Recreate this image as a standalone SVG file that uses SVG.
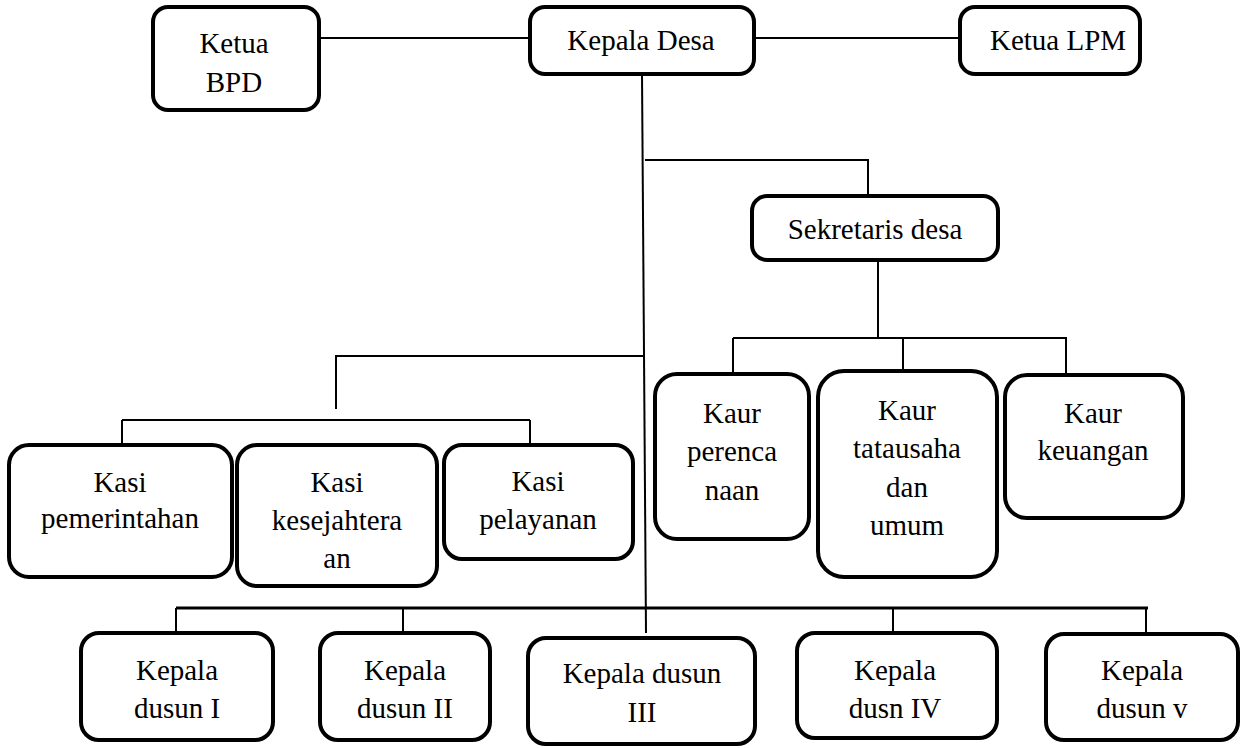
<svg xmlns="http://www.w3.org/2000/svg" width="1241" height="748" viewBox="0 0 1241 748">
<style>
.box{fill:#fff;stroke:#000;stroke-width:4;}
.t{font-family:'Liberation Serif','DejaVu Serif','Times New Roman',Times,serif;font-size:29px;fill:#000;text-anchor:middle;}
.c{fill:none;stroke:#000;stroke-width:2;}
.c3{fill:none;stroke:#000;stroke-width:3;}
</style>
<rect width="1241" height="748" fill="#fff"/>
<g id="connectors">
<line class="c" x1="319" y1="38" x2="530" y2="38"/>
<line class="c" x1="754" y1="38" x2="960" y2="38"/>
<line class="c" x1="642" y1="74" x2="646" y2="633"/>
<polyline class="c" points="645,160 868,160 868,196"/>
<line class="c" x1="878" y1="260" x2="878" y2="338"/>
<line class="c" x1="733" y1="338" x2="1067" y2="338"/>
<line class="c" x1="733" y1="338" x2="733" y2="374"/>
<line class="c" x1="903" y1="338" x2="903" y2="371"/>
<line class="c" x1="1066" y1="338" x2="1066" y2="375"/>
<polyline class="c" points="644,356 336,356 336,409"/>
<line class="c" x1="122" y1="420" x2="530" y2="420"/>
<line class="c" x1="122" y1="420" x2="122" y2="445"/>
<line class="c" x1="530" y1="420" x2="530" y2="445"/>
<line class="c3" x1="176" y1="608" x2="1148" y2="608"/>
<line class="c" x1="176" y1="608" x2="176" y2="633"/>
<line class="c" x1="403" y1="608" x2="403" y2="633"/>
<line class="c" x1="893" y1="608" x2="893" y2="633"/>
<line class="c" x1="1146" y1="608" x2="1146" y2="634"/>
</g>
<g id="ketua-bpd"><rect class="box" x="153" y="7" width="166" height="103" rx="15"/><text class="t" x="234" y="53">Ketua</text><text class="t" x="234" y="92">BPD</text></g>
<g id="kepala-desa"><rect class="box" x="530" y="7" width="224" height="67" rx="15"/><text class="t" x="641" y="50">Kepala Desa</text></g>
<g id="ketua-lpm"><rect class="box" x="960" y="7" width="180" height="67" rx="15"/><text class="t" x="1058" y="50">Ketua LPM</text></g>
<g id="sekretaris-desa"><rect class="box" x="752" y="196" width="246" height="64" rx="15"/><text class="t" x="875" y="239">Sekretaris desa</text></g>
<g id="kaur-perencanaan"><rect class="box" x="655" y="374" width="154" height="165" rx="22"/><text class="t" x="732" y="423">Kaur</text><text class="t" x="732" y="461">perenca</text><text class="t" x="732" y="500">naan</text></g>
<g id="kaur-tatausaha"><rect class="box" x="818" y="371" width="179" height="206" rx="26"/><text class="t" x="907" y="420">Kaur</text><text class="t" x="907" y="458">tatausaha</text><text class="t" x="907" y="497">dan</text><text class="t" x="907" y="535">umum</text></g>
<g id="kaur-keuangan"><rect class="box" x="1005" y="375" width="178" height="143" rx="22"/><text class="t" x="1093" y="423">Kaur</text><text class="t" x="1093" y="460">keuangan</text></g>
<g id="kasi-pemerintahan"><rect class="box" x="9" y="445" width="223" height="132" rx="20"/><text class="t" x="120" y="492">Kasi</text><text class="t" x="120" y="528">pemerintahan</text></g>
<g id="kasi-kesejahteraan"><rect class="box" x="237" y="445" width="200" height="141" rx="20"/><text class="t" x="337" y="492">Kasi</text><text class="t" x="337" y="530">kesejahtera</text><text class="t" x="337" y="568">an</text></g>
<g id="kasi-pelayanan"><rect class="box" x="444" y="445" width="189" height="114" rx="18"/><text class="t" x="538" y="491">Kasi</text><text class="t" x="538" y="529">pelayanan</text></g>
<g id="kepala-dusun-1"><rect class="box" x="81" y="633" width="192" height="107" rx="18"/><text class="t" x="177" y="680">Kepala</text><text class="t" x="177" y="718">dusun I</text></g>
<g id="kepala-dusun-2"><rect class="box" x="320" y="633" width="170" height="107" rx="18"/><text class="t" x="405" y="680">Kepala</text><text class="t" x="405" y="718">dusun II</text></g>
<g id="kepala-dusun-3"><rect class="box" x="528" y="638" width="227" height="106" rx="18"/><text class="t" x="642" y="683">Kepala dusun</text><text class="t" x="642" y="722">III</text></g>
<g id="kepala-dusun-4"><rect class="box" x="797" y="633" width="200" height="105" rx="18"/><text class="t" x="895" y="680">Kepala</text><text class="t" x="895" y="718">dusn IV</text></g>
<g id="kepala-dusun-5"><rect class="box" x="1046" y="634" width="192" height="106" rx="18"/><text class="t" x="1142" y="680">Kepala</text><text class="t" x="1142" y="718">dusun v</text></g>
</svg>
